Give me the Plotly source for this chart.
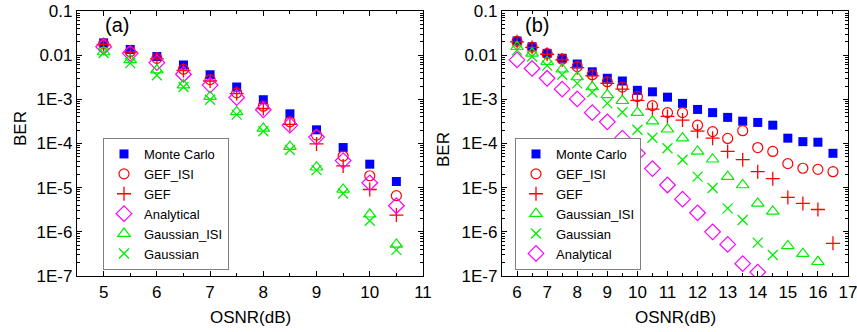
import plotly.graph_objects as go

# ---------------- data: panel (a) ----------------
osnr_a = [5, 5.5, 6, 6.5, 7, 7.5, 8, 8.5, 9, 9.5, 10, 10.5]
mc_a = [0.019, 0.0135, 0.0093, 0.006, 0.0036, 0.0019, 0.00098, 0.00047, 0.000204, 8.1e-5, 3.4e-5, 1.38e-5]
gef_isi_a = [0.018, 0.012, 0.0085, 0.0048, 0.0028, 0.0014, 0.0007, 0.00031, 0.000155, 5.2e-5, 1.86e-5, 6.6e-6]
gef_a = [0.0175, 0.0118, 0.0082, 0.0045, 0.0026, 0.00135, 0.00062, 0.00027, 9.8e-5, 3.1e-5, 9.1e-6, 2.4e-6]
analytical_a = [0.0155, 0.011, 0.0068, 0.0037, 0.0021, 0.0011, 0.00058, 0.00026, 0.00014, 4.1e-5, 1.29e-5, 3.9e-6]
gauss_isi_a = [0.0118, 0.0078, 0.0046, 0.0021, 0.00115, 0.00052, 0.00022, 8.5e-5, 2.9e-5, 9.1e-6, 2.5e-6, 5.2e-7]
gauss_a = [0.0112, 0.0066, 0.0035, 0.0019, 0.00098, 0.00045, 0.00019, 7.1e-5, 2.5e-5, 7.4e-6, 1.78e-6, 3.9e-7]

# ---------------- data: panel (b) ----------------
osnr_b = [6, 6.5, 7, 7.5, 8, 8.5, 9, 9.5, 10, 10.5, 11, 11.5, 12, 12.5, 13, 13.5, 14, 14.5, 15, 15.5, 16, 16.5]
mc_b = [0.021, 0.0155, 0.011, 0.0085, 0.0063, 0.0042, 0.003, 0.0026, 0.0016, 0.00148, 0.00112, 0.00081,
        0.00059, 0.0005, 0.00039, 0.00032, 0.0003, 0.00026, 0.000132, 0.00011, 0.000107, 6.0e-5]
gef_isi_b = [0.0205, 0.0152, 0.0108, 0.0081, 0.0055, 0.0036, 0.0025, 0.0019, 0.00115, 0.00072, 0.0005, 0.0005,
             0.00026, 0.000186, 0.00013, 0.000195, 8.1e-5, 6.6e-5, 3.5e-5, 2.75e-5, 2.6e-5, 2.3e-5]
gef_b = [0.02, 0.015, 0.0105, 0.0078, 0.0052, 0.0034, 0.0023, 0.0017, 0.00095, 0.0006, 0.00041, 0.00034,
         0.00019, 0.000132, 6.6e-5, 4.3e-5, 2.3e-5, 1.6e-5, 6.0e-6, 4.4e-6, 3.2e-6, 5.5e-7]
gauss_isi_b = [0.0155, 0.011, 0.0071, 0.0048, 0.0032, 0.0019, 0.00126, 0.00093, 0.0005, 0.00032, 0.00021, 0.000132,
               6.6e-5, 4.4e-5, 1.78e-5, 1.15e-5, 4.4e-6, 2.9e-6, 4.8e-7, 3.2e-7, 2.1e-7, None]
gauss_b = [0.013, 0.0093, 0.0058, 0.0036, 0.0023, 0.00145, 0.00081, 0.00051, 0.000204, 0.000135, 7.8e-5, 4.3e-5,
           1.78e-5, 9.8e-6, 3.4e-6, 1.86e-6, 5.7e-7, 3.0e-7, None, None, None, None]
analytical_b = [0.0078, 0.005, 0.003, 0.0017, 0.00102, 0.0005, 0.00031, 0.000132, 6.0e-5, 2.7e-5, 1.15e-5, 5.5e-6,
                2.7e-6, 1.0e-6, 5.2e-7, 1.9e-7, 1.23e-7, None, None, None, None, None]

# ---------------- tick labels ----------------
y_tickvals = [1e-7, 1e-6, 1e-5, 1e-4, 1e-3, 1e-2, 1e-1]
y_ticktext = ["1E-7", "1E-6", "1E-5", "1E-4", "1E-3", "0.01", "0.1"]

BLUE, RED, MAG, GREEN = "#0000FF", "#FF0000", "#FF00FF", "#00EE00"
FONT = "Liberation Sans, Arial, sans-serif"

styles = {
    "Monte Carlo": dict(symbol="square", color=BLUE, size=9),
    "GEF_ISI": dict(symbol="circle-open", color=RED, size=10, line=dict(width=1.2, color=RED)),
    "GEF": dict(symbol="cross-thin-open", color=RED, size=10, line=dict(width=1.3, color=RED)),
    "Analytical": dict(symbol="diamond-open", color=MAG, size=12, line=dict(width=1.2, color=MAG)),
    "Gaussian_ISI": dict(symbol="triangle-up-open", color=GREEN, size=11, line=dict(width=1.2, color=GREEN)),
    "Gaussian": dict(symbol="x-thin-open", color=GREEN, size=10, line=dict(width=1.3, color=GREEN)),
}

fig = go.Figure()

series_a = [("Monte Carlo", mc_a), ("GEF_ISI", gef_isi_a), ("GEF", gef_a),
            ("Analytical", analytical_a), ("Gaussian_ISI", gauss_isi_a), ("Gaussian", gauss_a)]
for name, vals in series_a:
    fig.add_trace(go.Scatter(x=osnr_a, y=vals, mode="markers", name=name,
                             marker=styles[name], xaxis="x", yaxis="y", legend="legend"))

series_b = [("Monte Carlo", mc_b), ("GEF_ISI", gef_isi_b), ("GEF", gef_b),
            ("Gaussian_ISI", gauss_isi_b), ("Gaussian", gauss_b), ("Analytical", analytical_b)]
for name, vals in series_b:
    fig.add_trace(go.Scatter(x=osnr_b, y=vals, mode="markers", name=name,
                             marker=styles[name], xaxis="x2", yaxis="y2", legend="legend2"))

minor_y = [m * 10 ** e for e in range(-7, -1) for m in range(2, 10)]

W, H = 857, 332
TOP, BOT = 11, 276

def px(x):
    return x / W

def py(y):
    return (BOT - y) / (BOT - TOP)

common_x = dict(showline=True, linecolor="black", linewidth=1.2, mirror="allticks",
                ticks="inside", ticklen=5, tickcolor="black", dtick=1, tick0=0,
                minor=dict(ticks="inside", ticklen=3, dtick=0.5, tickcolor="black"),
                showgrid=False, zeroline=False, automargin=False, ticklabeloverflow="allow",
                tickfont=dict(family=FONT, size=17, color="black"))
common_y = dict(type="log", range=[-7, -1], showline=True, linecolor="black", linewidth=1.2,
                mirror="allticks", ticks="inside", ticklen=5, tickcolor="black",
                tickmode="array", tickvals=y_tickvals, ticktext=y_ticktext,
                minor=dict(ticks="inside", ticklen=3, tickmode="array", tickvals=minor_y, tickcolor="black"),
                showgrid=False, zeroline=False, automargin=False, ticklabeloverflow="allow",
                tickfont=dict(family=FONT, size=17, color="black"))

legend_common = dict(bordercolor="#808080", borderwidth=1, bgcolor="white",
                     font=dict(family=FONT, size=13, color="black"),
                     xanchor="left", yanchor="bottom", tracegroupgap=0)

def label(text, x, y, size=17, angle=0, xanchor="center"):
    return dict(text=text, x=px(x), y=py(y), xref="paper", yref="paper", xanchor=xanchor,
                yanchor="middle", textangle=angle, showarrow=False,
                font=dict(family=FONT, size=size, color="black"))

fig.update_layout(
    width=W, height=H,
    margin=dict(l=0, r=0, t=TOP, b=H - BOT, autoexpand=False),
    paper_bgcolor="white", plot_bgcolor="white",
    font=dict(family=FONT, color="black"),
    xaxis=dict(domain=[px(77), px(423)], range=[4.5, 11], anchor="y", **common_x),
    yaxis=dict(domain=[0, 1], anchor="x", **common_y),
    xaxis2=dict(domain=[px(502), px(848)], range=[5.5, 17], anchor="y2", **common_x),
    yaxis2=dict(domain=[0, 1], anchor="x2", **common_y),
    legend=dict(x=px(103), y=py(270), **legend_common),
    legend2=dict(x=px(515), y=py(270), **legend_common),
    annotations=[
        label("(a)", 103, 25, size=20, xanchor="left"),
        label("(b)", 523, 25, size=20, xanchor="left"),
        label("BER", 20, 129, angle=-90),
        label("BER", 443, 150, angle=-90),
        label("OSNR(dB)", 250, 317),
        label("OSNR(dB)", 675, 317),
    ],
)

fig.write_html("out.html", config={"displayModeBar": False},
               post_script="document.body.style.margin='0';document.body.style.overflow='hidden';")
